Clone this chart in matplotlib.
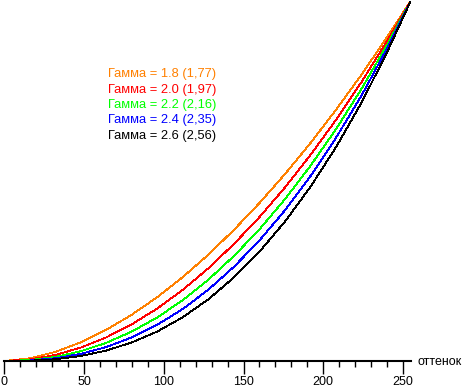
import numpy as np
from matplotlib import pyplot as plt
from matplotlib.ticker import MultipleLocator

# shade levels (0..255) and normalised brightness
shades = [0, 16, 32, 48, 64, 80, 96, 112, 128, 144, 160, 176, 192, 208, 224, 240, 255]

g18 = [0, 0.0074, 0.0253, 0.0520, 0.0866, 0.1286, 0.1774, 0.2330, 0.2953,
       0.3639, 0.4383, 0.5185, 0.6048, 0.6970, 0.7945, 0.8985, 1.0]
g20 = [0, 0.0043, 0.0167, 0.0373, 0.0657, 0.1020, 0.1459, 0.1977, 0.2574,
       0.3247, 0.3993, 0.4815, 0.5717, 0.6690, 0.7741, 0.8878, 1.0]
g22 = [0, 0.0025, 0.0113, 0.0271, 0.0505, 0.0818, 0.1212, 0.1690, 0.2258,
       0.2914, 0.3653, 0.4489, 0.5417, 0.6434, 0.7550, 0.8772, 1.0]
g24 = [0, 0.0015, 0.0076, 0.0197, 0.0389, 0.0656, 0.1007, 0.1445, 0.1981,
       0.2613, 0.3345, 0.4181, 0.5132, 0.6194, 0.7364, 0.8676, 1.0]
g26 = [0, 0.0008, 0.0049, 0.0139, 0.0291, 0.0515, 0.0820, 0.1216, 0.1714,
       0.2318, 0.3033, 0.3868, 0.4834, 0.5933, 0.7169, 0.8564, 1.0]

labels = ["Гамма = 1.8 (1,77)", "Гамма = 2.0 (1,97)", "Гамма = 2.2 (2,16)",
          "Гамма = 2.4 (2,35)", "Гамма = 2.6 (2,56)"]
colors = ["#ff8000", "#ff0000", "#00ff00", "#0000ff", "#000000"]
series = [g18, g20, g22, g24, g26]

W, H = 462, 387
fig = plt.figure(figsize=(W / 100, H / 100), dpi=100)
plt.rcParams['font.family'] = ['Liberation Sans', 'DejaVu Sans']

# axes placed in pixels: x=0 at 4px, x=255 at 411px, y=0 at 361px, y=1 at 0px
x0, x1 = 4.3, 411.0
ybot, ytop = 361, 0.5
ax = fig.add_axes([x0 / W, (H - ybot) / H, (x1 - x0) / W, (ybot - ytop) / H])

for ys, c in zip(series, colors):
    ax.plot(shades, ys, color=c, lw=0.6, antialiased=False)

ax.set_xlim(0, 255)
ax.set_ylim(0, 1)
for s in ['top', 'right', 'left']:
    ax.spines[s].set_visible(False)
ax.spines['bottom'].set_linewidth(1.5)
ax.set_yticks([])
ax.xaxis.set_major_locator(MultipleLocator(50))
ax.xaxis.set_minor_locator(MultipleLocator(10))
ax.tick_params(axis='x', which='major', length=9, width=1, direction='out',
               labelsize=9, pad=1.5)
ax.tick_params(axis='x', which='minor', length=4.5, width=1, direction='out')
ax.patch.set_visible(False)

# legend as coloured text
for i, (lab, c) in enumerate(zip(labels, colors)):
    yp = 74 + i * 15.5
    fig.text(108 / W, 1 - yp / H, lab, color=c, fontsize=9.3, va='center', ha='left')

fig.text(417 / W, 1 - 362 / H, "оттенок", fontsize=9, va='center', ha='left')

fig.savefig("out.png", dpi=100)
